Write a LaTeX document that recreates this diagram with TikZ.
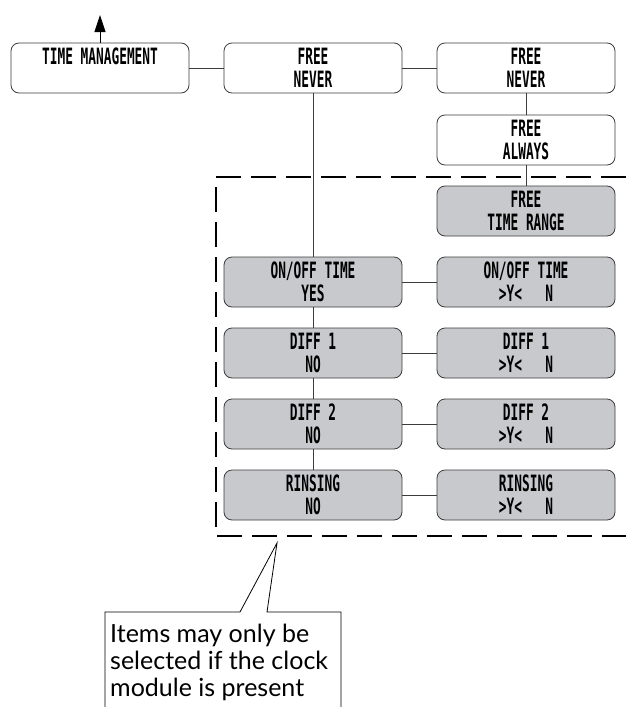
\documentclass[tikz,border=0pt]{standalone}
\usepackage{fontspec}
\newfontfamily\lcdfont{DejaVu Sans Mono}[FakeStretch=0.57]
\newfontfamily\notefont{Lato}
\usetikzlibrary{arrows.meta}
\definecolor{boxgray}{RGB}{200,201,205}
\definecolor{edgegray}{RGB}{60,60,60}

\tikzset{
  menu/.style={draw=edgegray, line width=0.8pt, rounded corners=8pt,
    minimum width=178pt, minimum height=50pt, inner sep=0pt, align=center,
    font=\lcdfont\bfseries\fontsize{22.5}{23}\selectfont},
  menugray/.style={menu, fill=boxgray},
  link/.style={draw=edgegray, line width=0.7pt},
  frame/.style={line width=2pt, dash pattern=on 25pt off 10pt},
  note/.style={align=left, inner sep=0pt, font=\notefont\fontsize{25}{27}\selectfont}
}

\begin{document}
\begin{tikzpicture}[x=1pt, y=-1pt]
  \useasboundingbox (0,0) rectangle (626,707);

  % top row
  \node[menu] (tm) at (100,68) {TIME MANAGEMENT\\\phantom{X}};
  \node[menu] (freeA) at (313,68) {FREE\\NEVER};
  \node[menu] (freeB) at (526,68) {FREE\\NEVER};
  \node[menu] (always) at (526,140) {FREE\\ALWAYS};
  \coordinate (up) at (100,15);

  % items that need the clock module
  \node[menugray] (range) at (526,211) {FREE\\TIME RANGE};
  \node[menugray] (onoff) at (313,282) {ON/OFF TIME\\YES};
  \node[menugray] (onoffYN) at (526,282) {ON/OFF TIME\\>Y<\ \ \ N};
  \node[menugray] (diffA) at (313,353) {DIFF 1\\NO};
  \node[menugray] (diffAYN) at (526,353) {DIFF 1\\>Y<\ \ \ N};
  \node[menugray] (diffB) at (313,424) {DIFF 2\\NO};
  \node[menugray] (diffBYN) at (526,424) {DIFF 2\\>Y<\ \ \ N};
  \node[menugray] (rins) at (313,495) {RINSING\\NO};
  \node[menugray] (rinsYN) at (526,495) {RINSING\\>Y<\ \ \ N};

  \draw[line width=0.8pt, -{Triangle[length=17pt, width=11pt]}] (tm.north) -- (up);

  % connectors
  \draw[link] (tm) -- (freeA);
  \draw[link] (freeA) -- (freeB);
  \draw[link] (freeB) -- (always);
  \draw[link] (always) -- (range);
  \draw[link] (freeA) -- (onoff);
  \draw[link] (onoff) -- (diffA);
  \draw[link] (diffA) -- (diffB);
  \draw[link] (diffB) -- (rins);
  \foreach \a/\b in {onoff/onoffYN, diffA/diffAYN, diffB/diffBYN, rins/rinsYN}
    \draw[link] (\a) -- (\b);

  % dashed frame, open to the right
  \draw[frame] (626,177) -- (216,177) -- (216,536) -- (626,536);

  % callout
  \draw[line width=0.8pt] (105,707) -- (105,612) -- (240,612) -- (277,543)
    -- (267,612) -- (341,612) -- (341,707);
  \node[note, anchor=north west] (hint) at (110,624)
    {Items may only be\\selected if the clock\\module is present};
\end{tikzpicture}
\end{document}
